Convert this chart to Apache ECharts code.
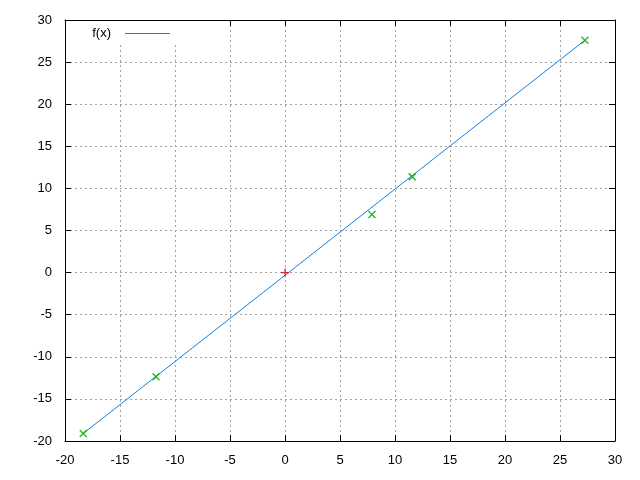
<!DOCTYPE html>
<html><head><meta charset="utf-8">
<script src="https://cdn.jsdelivr.net/npm/echarts@6/dist/echarts.min.js"></script>
<style>html,body{margin:0;padding:0;background:#fff}#c{width:640px;height:480px}</style>
</head><body><div id="c"></div>
<script>
const pointsX = [-18.34, -11.73, 7.9, 11.57, 27.27];
const pointsY = [-19.1, -12.37, 6.9, 11.37, 27.6];
const lineX = [-18.34, 27.27];
const lineY = [-19.1, 27.6];
const originX = [0];
const originY = [0];
const xTicks = [-20, -15, -10, -5, 0, 5, 10, 15, 20, 25, 30];
const yTicks = [-20, -15, -10, -5, 0, 5, 10, 15, 20, 25, 30];
const legendLabel = 'f(x)';

const font = 'Liberation Sans, Arial, sans-serif';
const lineColor = '#1480e6';
const chart = echarts.init(document.getElementById('c'), null, {renderer: 'canvas'});
function axisCommon(show) {
  return {
    axisLine: {show: true, onZero: false, lineStyle: {color: '#000', width: 1}},
    axisTick: {show: true, inside: true, length: 6, lineStyle: {color: '#000'}},
    axisLabel: {show: show, color: '#000', fontFamily: font, fontSize: 13},
  };
}
const gridStyle = {show: true, lineStyle: {color: '#a0a0a0', type: [2, 3], width: 1}};
const opt = {
  animation: false,
  backgroundColor: '#fff',
  grid: {left: 65, right: 25, top: 20, bottom: 39},
  graphic: [
    {type: 'rect', shape: {x: 67, y: 21, width: 110, height: 21}, style: {fill: '#fff'}, z: 100},
    {type: 'text', x: 111, y: 33, style: {text: legendLabel, fill: '#000', font: '13px ' + font, align: 'right', verticalAlign: 'middle'}, z: 101},
    {type: 'line', shape: {x1: 125, y1: 33.5, x2: 170, y2: 33.5}, style: {stroke: lineColor, lineWidth: 1}, z: 101}
  ],
  xAxis: [
    Object.assign({type: 'value', min: xTicks[0], max: xTicks[xTicks.length-1], interval: 5, position: 'bottom',
      splitLine: gridStyle}, axisCommon(true),
      {axisLabel: {color: '#000', fontFamily: font, fontSize: 13, margin: 13}}),
    Object.assign({type: 'value', min: xTicks[0], max: xTicks[xTicks.length-1], interval: 5, position: 'top',
      splitLine: {show: false}}, axisCommon(false))
  ],
  yAxis: [
    Object.assign({type: 'value', min: yTicks[0], max: yTicks[yTicks.length-1], interval: 5, position: 'left',
      splitLine: gridStyle}, axisCommon(true),
      {axisLabel: {color: '#000', fontFamily: font, fontSize: 13, margin: 13}}),
    Object.assign({type: 'value', min: yTicks[0], max: yTicks[yTicks.length-1], interval: 5, position: 'right',
      splitLine: {show: false}}, axisCommon(false))
  ],
  series: [
    {
      name: 'f(x)', type: 'line', data: lineX.map((x, i) => [x, lineY[i]]),
      symbol: 'none', lineStyle: {color: lineColor, width: 1}, itemStyle: {color: lineColor}, z: 2
    },
    {
      name: 'points', type: 'scatter', data: pointsX.map((x, i) => [x, pointsY[i]]),
      symbol: 'path://M0,0L10,10M10,0L0,10', symbolSize: 7,
      itemStyle: {color: 'rgba(0,0,0,0)', borderColor: '#00a800', borderWidth: 1.5}, z: 3
    },
    {
      name: 'origin', type: 'scatter', data: originX.map((x, i) => [x, originY[i]]),
      symbol: 'path://M5,0L5,10M0,5L10,5', symbolSize: 8,
      itemStyle: {color: 'rgba(0,0,0,0)', borderColor: '#d00000', borderWidth: 1.3}, z: 3
    }
  ]
};
chart.setOption(opt);
</script></body></html>
